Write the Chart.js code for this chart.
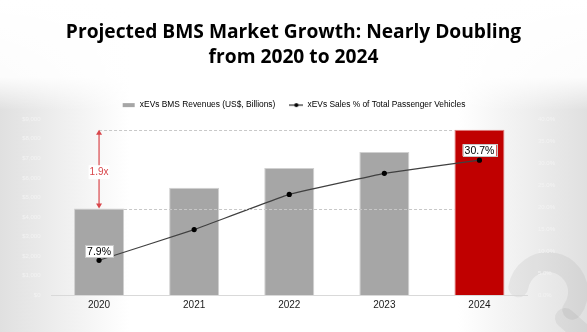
<!DOCTYPE html>
<html>
<head>
<meta charset="utf-8">
<script src="https://cdn.jsdelivr.net/npm/chart.js@4"></script>
<style>
  html, body { margin: 0; padding: 0; background: #fff; }
  #wrap { width: 587px; height: 332px; position: relative; }
</style>
</head>
<body>
<div id="wrap"><canvas id="bmsChart" width="587" height="332"></canvas></div>
<script>
// Data
var years = ["2020", "2021", "2022", "2023", "2024"];
var bmsRevenue = [4430, 5500, 6510, 7320, 8460];      // US$ axis values
var evSharePct = [7.9, 14.9, 22.9, 27.7, 30.7];        // % of passenger vehicles
var leftTicks = [0, 9000, 1000];                       // min, max, step
var rightTicks = [0, 40, 5];
var growthLabel = "1.9x";

var barColors = years.map(function (y, i) { return i === years.length - 1 ? "#c00000" : "#a6a6a6"; });
var barBorders = years.map(function (y, i) { return i === years.length - 1 ? "#e08080" : "#d0d0d0"; });

// legend icons
function makeIcon(kind) {
  var cv = document.createElement("canvas");
  cv.width = 14; cv.height = 6;
  var c = cv.getContext("2d");
  if (kind === "bar") {
    c.fillStyle = "#a6a6a6";
    c.fillRect(1, 1, 12, 4);
  } else {
    c.strokeStyle = "#000000";
    c.lineWidth = 1;
    c.beginPath(); c.moveTo(0, 3); c.lineTo(14, 3); c.stroke();
    c.fillStyle = "#000000";
    c.beginPath(); c.arc(7, 3, 2, 0, Math.PI * 2); c.fill();
  }
  return cv;
}
var barIcon = makeIcon("bar");
var lineIcon = makeIcon("line");

// background: grey edges, white centre, faint logo bottom right
var backdrop = {
  id: "backdrop",
  beforeDraw: function (chart) {
    var c = chart.ctx, w = chart.width, h = chart.height;
    c.save();
    var g = c.createLinearGradient(0, 0, w, 0);
    g.addColorStop(0, "#e0e0e0");
    g.addColorStop(0.22, "#ffffff");
    g.addColorStop(0.78, "#ffffff");
    g.addColorStop(1, "#e0e0e0");
    c.fillStyle = g;
    c.fillRect(0, 0, w, h);
    var v = c.createLinearGradient(0, 0, 0, 110);
    v.addColorStop(0, "rgba(255,255,255,1)");
    v.addColorStop(0.7, "rgba(255,255,255,0.9)");
    v.addColorStop(1, "rgba(255,255,255,0)");
    c.fillStyle = v;
    c.fillRect(0, 0, w, 110);
    // faint logo
    c.strokeStyle = "rgba(0,0,0,0.05)";
    c.lineWidth = 20;
    c.lineCap = "round";
    c.beginPath();
    c.arc(548, 292, 30, Math.PI * 1.05, Math.PI * 0.2);
    c.stroke();
    c.beginPath();
    c.moveTo(565, 318);
    c.lineTo(590, 340);
    c.stroke();
    c.restore();
  }
};

function boxLabel(c, text, x, y) {
  c.font = "10.5px 'Liberation Sans', Arial, sans-serif";
  var tw = c.measureText(text).width;
  c.fillStyle = "#ffffff";
  c.fillRect(x - tw / 2 - 2, y - 6, tw + 4, 12);
  c.strokeStyle = "#c8c8c8";
  c.lineWidth = 1;
  c.strokeRect(Math.round(x - tw / 2 - 2) + 0.5, Math.round(y - 6) + 0.5, Math.round(tw + 4), 12);
  c.fillStyle = "#000000";
  c.textAlign = "center";
  c.textBaseline = "middle";
  c.fillText(text, x, y + 0.5);
}

// dashed reference lines, growth arrow and value boxes
var annotations = {
  id: "annotations",
  afterDatasetsDraw: function (chart) {
    var c = chart.ctx;
    var bars = chart.getDatasetMeta(1).data;
    var pts = chart.getDatasetMeta(0).data;
    var first = bars[0], last = bars[bars.length - 1];
    var yLow = first.y, yHigh = last.y;
    var xEnd = last.x - last.width / 2;
    c.save();
    c.strokeStyle = "#c8c8c8";
    c.lineWidth = 1;
    c.setLineDash([3, 2]);
    c.beginPath();
    c.moveTo(first.x, Math.round(yHigh) + 0.5);
    c.lineTo(xEnd, Math.round(yHigh) + 0.5);
    c.moveTo(first.x + first.width / 2, Math.round(yLow) + 0.5);
    c.lineTo(xEnd, Math.round(yLow) + 0.5);
    c.stroke();
    c.setLineDash([]);
    // red double arrow
    var ax = first.x;
    c.strokeStyle = "#d9464b";
    c.fillStyle = "#d9464b";
    c.lineWidth = 1.2;
    c.beginPath();
    c.moveTo(ax, yHigh + 2);
    c.lineTo(ax, yLow - 2);
    c.stroke();
    c.beginPath();
    c.moveTo(ax, yHigh);
    c.lineTo(ax - 3, yHigh + 5);
    c.lineTo(ax + 3, yHigh + 5);
    c.closePath();
    c.fill();
    c.beginPath();
    c.moveTo(ax, yLow);
    c.lineTo(ax - 3, yLow - 5);
    c.lineTo(ax + 3, yLow - 5);
    c.closePath();
    c.fill();
    var my = (yHigh + yLow) / 2 + 3;
    c.font = "10px 'Liberation Sans', Arial, sans-serif";
    var tw = c.measureText(growthLabel).width;
    c.fillStyle = "#ffffff";
    c.fillRect(ax - tw / 2 - 1, my - 7, tw + 2, 14);
    c.fillStyle = "#d9464b";
    c.textAlign = "center";
    c.textBaseline = "middle";
    c.fillText(growthLabel, ax, my);
    // value boxes for first and last point
    boxLabel(c, evSharePct[0].toFixed(1) + "%", pts[0].x, pts[0].y - 9);
    var lp = pts[pts.length - 1];
    boxLabel(c, evSharePct[evSharePct.length - 1].toFixed(1) + "%", lp.x, lp.y - 10);
    c.restore();
  }
};

var ctx = document.getElementById("bmsChart").getContext("2d");
var bmsChart = new Chart(ctx, {
  type: "bar",
  data: {
    labels: years,
    datasets: [
      {
        type: "line",
        label: "xEVs Sales % of Total Passenger Vehicles",
        data: evSharePct,
        yAxisID: "yPct",
        borderColor: "#404040",
        borderWidth: 1.2,
        pointBackgroundColor: "#000000",
        pointBorderColor: "#000000",
        pointRadius: 2,
        tension: 0.05,
        order: 0
      },
      {
        label: "xEVs BMS Revenues (US$, Billions)",
        data: bmsRevenue,
        yAxisID: "yRev",
        backgroundColor: barColors,
        borderColor: barBorders,
        borderWidth: 1,
        categoryPercentage: 1,
        barPercentage: 0.526,
        order: 1
      }
    ]
  },
  options: {
    responsive: false,
    animation: false,
    layout: { padding: { left: 0, right: 0, top: 0, bottom: 16 } },
    plugins: {
      title: {
        display: true,
        text: ["Projected BMS Market Growth: Nearly Doubling", "from 2020 to 2024"],
        color: "#000000",
        font: { family: "'Open Sans', sans-serif", size: 19.2, weight: "bold", lineHeight: 1.3 },
        padding: { top: 20, bottom: 17 }
      },
      legend: {
        reverse: true,
        labels: {
          color: "#000000",
          font: { family: "'Liberation Sans', Arial, sans-serif", size: 8.4 },
          usePointStyle: true,
          pointStyleWidth: 14,
          padding: 14,
          generateLabels: function (chart) {
            return chart.data.datasets.map(function (ds, i) {
              return {
                text: ds.label,
                datasetIndex: i,
                fillStyle: "#000000",
                strokeStyle: "#000000",
                lineWidth: 0,
                pointStyle: i === 1 ? barIcon : lineIcon,
                hidden: false
              };
            });
          }
        }
      },
      tooltip: { enabled: false }
    },
    scales: {
      x: {
        grid: { display: false, drawTicks: false },
        border: { color: "#d9d9d9" },
        ticks: { color: "#1a1a1a", font: { family: "'Liberation Sans', Arial, sans-serif", size: 10 }, padding: 4.5 }
      },
      yRev: {
        position: "left",
        min: leftTicks[0],
        max: leftTicks[1],
        ticks: {
          stepSize: leftTicks[2],
          color: "#f3f3f3",
          font: { family: "'Liberation Sans', Arial, sans-serif", size: 6 },
          callback: function (v) { return "$" + v.toLocaleString("en-US"); }
        },
        grid: { display: false },
        border: { display: false },
        afterFit: function (s) { s.width = 51.5; }
      },
      yPct: {
        position: "right",
        min: rightTicks[0],
        max: rightTicks[1],
        ticks: {
          stepSize: rightTicks[2],
          color: "#f3f3f3",
          font: { family: "'Liberation Sans', Arial, sans-serif", size: 6 },
          callback: function (v) { return v.toFixed(1) + "%"; }
        },
        grid: { display: false },
        border: { display: false },
        afterFit: function (s) { s.width = 60; }
      }
    }
  },
  plugins: [backdrop, annotations]
});
</script>
</body>
</html>
